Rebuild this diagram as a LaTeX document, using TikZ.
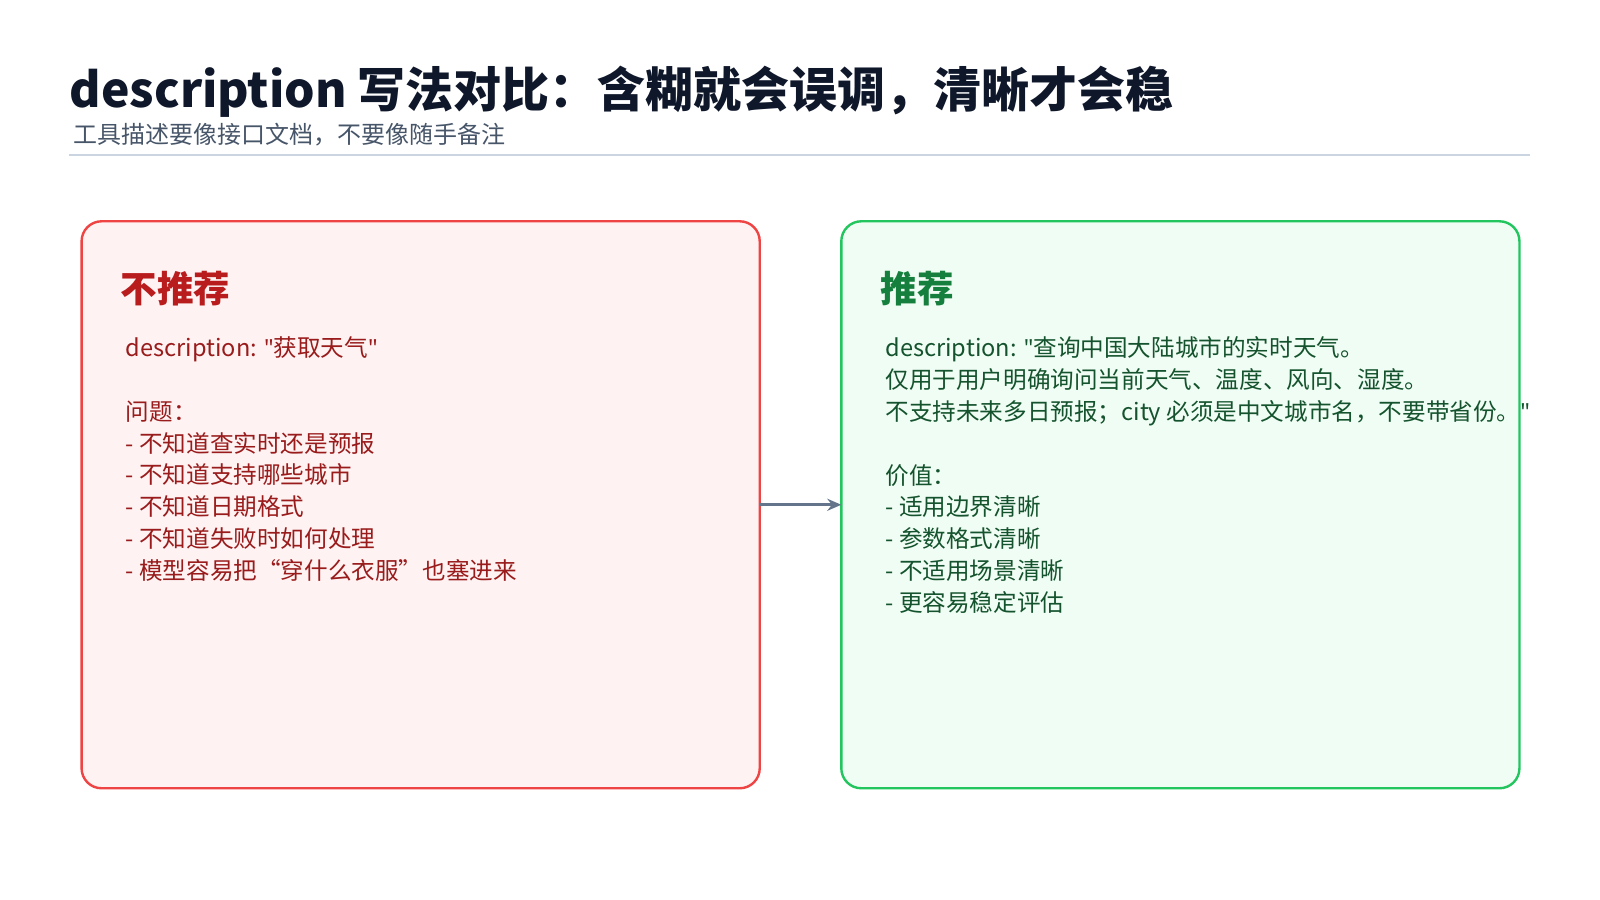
\documentclass[tikz,border=0pt]{standalone}
\usepackage{fontspec}
\setmainfont{Noto Sans CJK SC}
\newfontfamily\latinq{Noto Sans}
\newcommand{\dq}{{\latinq\symbol{34}}}
\usetikzlibrary{positioning,arrows.meta}
\definecolor{titlec}{HTML}{0F172A}
\definecolor{subc}{HTML}{475569}
\definecolor{rulec}{HTML}{CBD5E1}
\definecolor{arrowc}{HTML}{64748B}
\definecolor{badline}{HTML}{EF4444}
\definecolor{badfill}{HTML}{FEF2F2}
\definecolor{badtext}{HTML}{991B1B}
\definecolor{badhead}{HTML}{B91C1C}
\definecolor{goodline}{HTML}{22C55E}
\definecolor{goodfill}{HTML}{F0FDF4}
\definecolor{goodtext}{HTML}{14532D}
\definecolor{goodhead}{HTML}{15803D}

\begin{document}
\begin{tikzpicture}[x=0.51pt,y=-0.51pt,
	panel/.style={
	  line width=1.2pt,
	  rounded corners=10pt
	},
	headb/.style={
	  anchor=west,
	  inner sep=0pt,
	  font=\fontsize{18.3}{22}\selectfont\bfseries
	},
	bodyb/.style={
	  anchor=north west,
	  inner sep=0pt,
	  align=left,
	  font=\fontsize{11.8}{15.9}\selectfont
	}]

	\useasboundingbox (0,0) rectangle (1569,882);

	\node[anchor=base west,inner sep=0pt,text=titlec,font=\fontsize{24}{28}\selectfont\bfseries] (Title) at (68,105) {description 写法对比：含糊就会误调，清晰才会稳};
	\node[anchor=base west,inner sep=0pt,text=subc,font=\fontsize{12}{14}\selectfont] (Subtitle) at (72,141) {工具描述要像接口文档，不要像随手备注};
	\coordinate (RuleL) at (68,152);
	\coordinate (RuleR) at (1500,152);
	\draw[rulec,line width=1.2pt] (RuleL) -- (RuleR);

	\draw[panel,draw=badline,fill=badfill] (80,217) rectangle (745,773);
	\draw[panel,draw=goodline,fill=goodfill] (825,217) rectangle (1490,773);
	\coordinate (BadR) at (745,495);
	\coordinate (GoodL) at (825,495);

	\node[headb,text=badhead] (BadHead) at (118,283) {不推荐};
	\node[bodyb,text=badtext] (BadBody) at (123,330) {description: \dq 获取天气\dq\\[15.9pt]
	  问题：\\
	  - 不知道查实时还是预报\\
	  - 不知道支持哪些城市\\
	  - 不知道日期格式\\
	  - 不知道失败时如何处理\\
	  - 模型容易把“穿什么衣服”也塞进来};

	\node[headb,text=goodhead] (GoodHead) at (863,283) {推荐};
	\node[bodyb,text=goodtext] (GoodBody) at (868,330) {description: \dq 查询中国大陆城市的实时天气。\\
	  仅用于用户明确询问当前天气、温度、风向、湿度。\\
	  不支持未来多日预报；city 必须是中文城市名，不要带省份。\dq\\[15.9pt]
	  价值：\\
	  - 适用边界清晰\\
	  - 参数格式清晰\\
	  - 不适用场景清晰\\
	  - 更容易稳定评估};

	\draw[arrowc,line width=1.6pt,-{Stealth[length=7pt,width=6pt]}] (BadR) -- (GoodL);
\end{tikzpicture}
\end{document}
